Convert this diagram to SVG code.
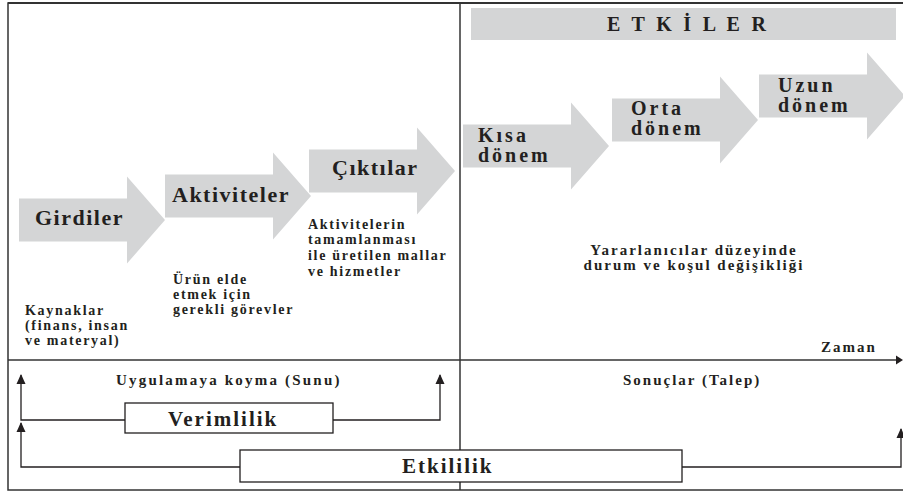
<svg xmlns="http://www.w3.org/2000/svg" xmlns:xlink="http://www.w3.org/1999/xlink" width="903" height="493" viewBox="0 0 903 493">
<style>
  text { font-family: 'Liberation Serif', 'Times New Roman', serif; font-weight: 700; fill: #231f20; }
  .big { font-size: 22px; letter-spacing: 1.5px; }
  .mid { font-size: 20px; letter-spacing: 3px; }
  .small { font-size: 14px; letter-spacing: 1.7px; }
  .lab { font-size: 15px; letter-spacing: 2px; }
  .box { font-size: 21px; letter-spacing: 2px; }
  .shape { fill: #d4d5d6; }
  .frame { fill: none; stroke: #333; stroke-width: 1.5; }
  .conn { fill: none; stroke: #231f20; stroke-width: 1.3; marker-end: url(#head); }
  .rbox { fill: #fff; stroke: #231f20; stroke-width: 1.3; }
</style>
<defs>
  <path id="arr" d="M0,-21.5 H108 V-43.5 L146,0 L108,43.5 V21.5 H0 Z"/>
  <marker id="head" markerUnits="userSpaceOnUse" markerWidth="10" markerHeight="14" refX="9" refY="4.5" orient="auto" viewBox="0 0 10 9">
    <path d="M0,0 L10,4.5 L0,9 Z" fill="#231f20"/>
  </marker>
</defs>
<rect width="903" height="493" fill="#fff"/>

<g id="frame">
  <rect class="frame" x="8" y="3" width="905" height="487"/>
  <line x1="8" y1="3" x2="903" y2="3" stroke="#333" stroke-width="2"/>
  <line class="frame" x1="460" y1="3" x2="460" y2="490"/>
  <line class="frame" x1="8" y1="360" x2="897" y2="360"/>
  <path d="M896,355.5 L903,360 L896,364.5 Z" fill="#231f20"/>
  <text class="lab" x="821" y="352">Zaman</text>
</g>

<g id="etkiler">
  <rect class="shape" x="471" y="8" width="425" height="32"/>
  <text x="607" y="31" style="font-size:20px;letter-spacing:3.3px">E T K İ L E R</text>
</g>

<g id="girdiler">
  <use xlink:href="#arr" class="shape" x="19" y="220"/>
  <text class="big" x="35" y="225">Girdiler</text>
  <text class="small" x="25" y="315">Kaynaklar</text>
  <text class="small" x="25" y="330">(finans, insan</text>
  <text class="small" x="25" y="345">ve materyal)</text>
</g>

<g id="aktiviteler">
  <use xlink:href="#arr" class="shape" x="165" y="196"/>
  <text class="big" x="172" y="202">Aktiviteler</text>
  <text class="small" x="173" y="284">Ürün elde</text>
  <text class="small" x="173" y="299">etmek için</text>
  <text class="small" x="173" y="314">gerekli görevler</text>
</g>

<g id="ciktilar">
  <use xlink:href="#arr" class="shape" x="309" y="171"/>
  <text class="big" x="332" y="175">Çıktılar</text>
  <text class="small" x="308" y="229">Aktivitelerin</text>
  <text class="small" x="308" y="244">tamamlanması</text>
  <text class="small" x="308" y="260">ile üretilen mallar</text>
  <text class="small" x="308" y="276">ve hizmetler</text>
</g>

<g id="kisa">
  <use xlink:href="#arr" class="shape" x="463" y="146"/>
  <text class="mid" x="478" y="142">Kısa</text>
  <text class="mid" x="478" y="162">dönem</text>
</g>

<g id="orta">
  <use xlink:href="#arr" class="shape" x="612" y="120"/>
  <text class="mid" x="631" y="115">Orta</text>
  <text class="mid" x="631" y="135">dönem</text>
</g>

<g id="uzun">
  <use xlink:href="#arr" class="shape" x="759" y="96"/>
  <text class="mid" x="778" y="92">Uzun</text>
  <text class="mid" x="778" y="112">dönem</text>
</g>

<g id="degisiklik">
  <text class="lab" x="694" y="255" text-anchor="middle">Yararlanıcılar düzeyinde</text>
  <text class="lab" x="694" y="270" text-anchor="middle">durum ve koşul değişikliği</text>
</g>

<g id="sunu">
  <text class="lab" x="116" y="385" style="letter-spacing:2.2px">Uygulamaya koyma (Sunu)</text>
</g>
<g id="talep">
  <text class="lab" x="623" y="385">Sonuçlar (Talep)</text>
</g>

<g id="connectors">
  <path class="conn" d="M125,420 H21 V375"/>
  <path class="conn" d="M333,420 H440 V375"/>
  <path class="conn" d="M240,467 H21 V423"/>
  <path class="conn" d="M682,467 H901 V429"/>
</g>

<g id="verimlilik">
  <rect class="rbox" x="125" y="403" width="208" height="30"/>
  <text class="box" x="168" y="426">Verimlilik</text>
</g>

<g id="etkililik">
  <rect class="rbox" x="240" y="450" width="442" height="32"/>
  <text class="box" x="402" y="473">Etkililik</text>
</g>
</svg>
